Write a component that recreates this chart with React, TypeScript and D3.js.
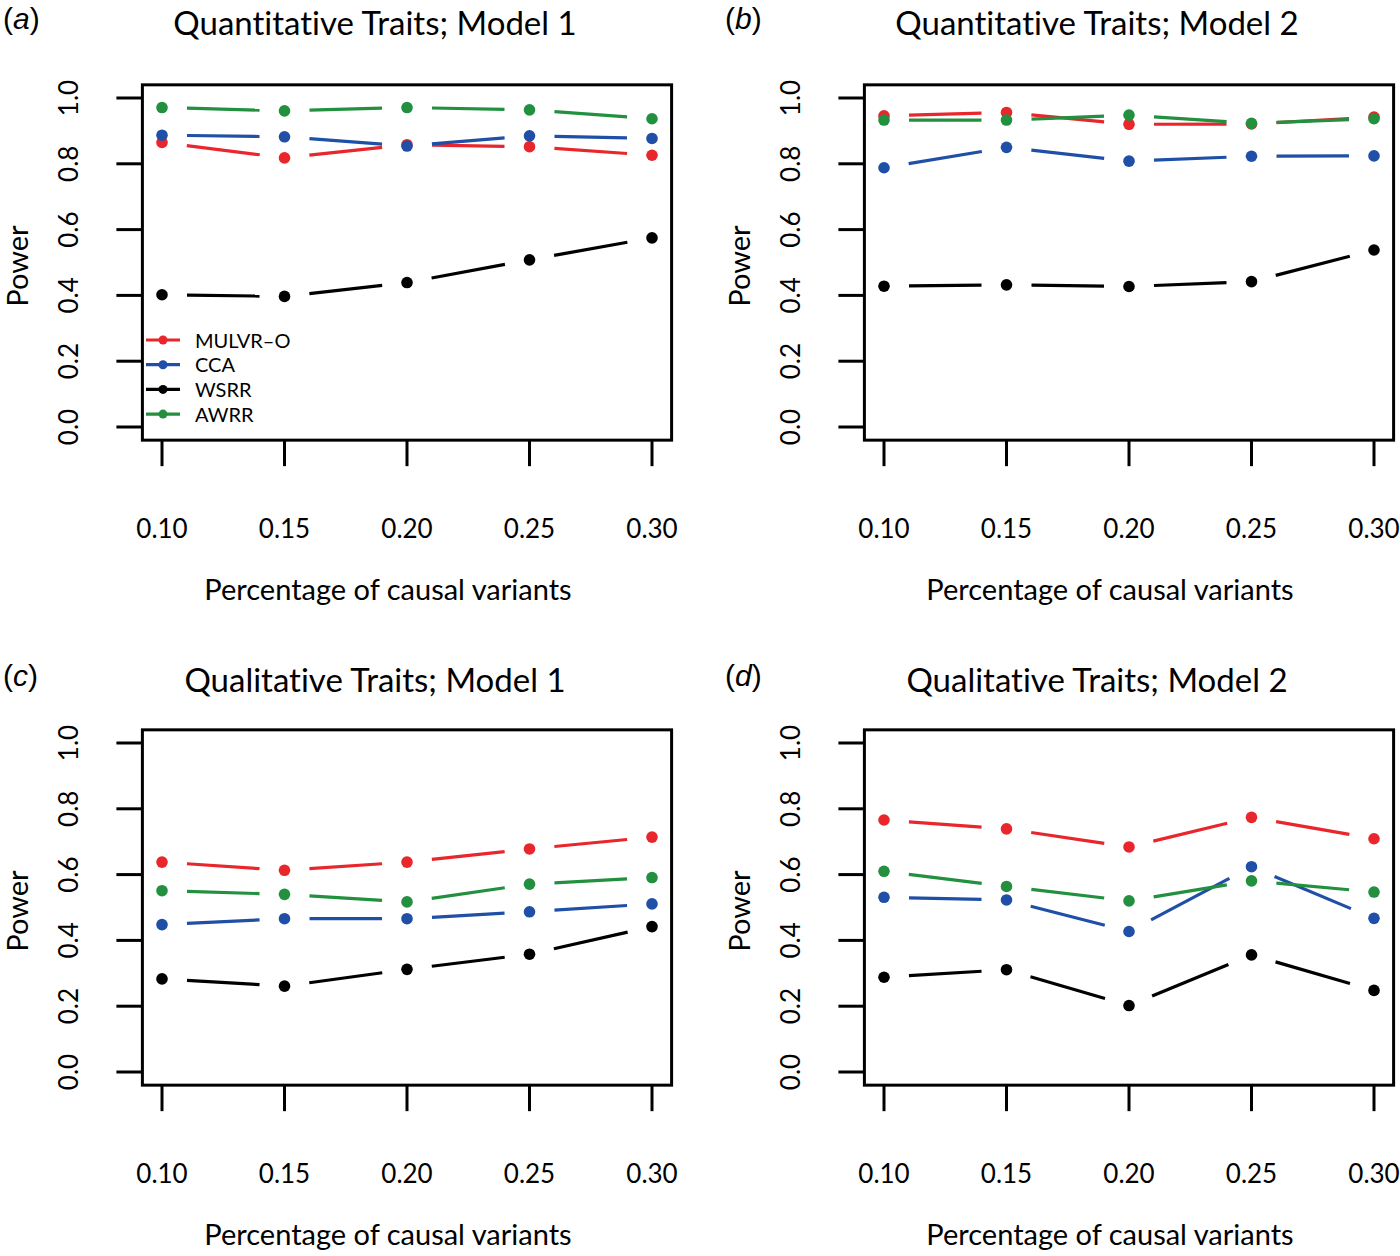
import * as d3 from 'd3'

// x positions (proportion of causal variants)
const xValues = [0.1, 0.15, 0.2, 0.25, 0.3]
const xTickLabels = ['0.10', '0.15', '0.20', '0.25', '0.30']
const yTicks = [0, 0.2, 0.4, 0.6, 0.8, 1.0]

const methods = ['MULVR–O', 'CCA', 'WSRR', 'AWRR']
const methodColors = ['#e8262b', '#1f4fa6', '#000000', '#22903f']

// power values, rows in the order of methods
const quantModel1 = [
  [0.865, 0.818, 0.858, 0.852, 0.826],
  [0.887, 0.882, 0.854, 0.885, 0.877],
  [0.402, 0.397, 0.439, 0.508, 0.575],
  [0.971, 0.961, 0.971, 0.964, 0.937],
]
const quantModel2 = [
  [0.946, 0.956, 0.92, 0.921, 0.942],
  [0.788, 0.85, 0.808, 0.823, 0.824],
  [0.428, 0.432, 0.427, 0.442, 0.538],
  [0.933, 0.933, 0.948, 0.923, 0.937],
]
const qualModel1 = [
  [0.638, 0.613, 0.638, 0.678, 0.714],
  [0.448, 0.466, 0.466, 0.487, 0.511],
  [0.283, 0.261, 0.312, 0.358, 0.442],
  [0.551, 0.54, 0.517, 0.571, 0.591],
]
const qualModel2 = [
  [0.766, 0.739, 0.684, 0.774, 0.709],
  [0.531, 0.523, 0.427, 0.624, 0.467],
  [0.288, 0.311, 0.202, 0.356, 0.248],
  [0.61, 0.564, 0.52, 0.581, 0.547],
]

const panelTitles = [
  'Quantitative Traits; Model 1',
  'Quantitative Traits; Model 2',
  'Qualitative Traits; Model 1',
  'Qualitative Traits; Model 2',
]
const panelLetters = ['a', 'b', 'c', 'd']
const panelData = [quantModel1, quantModel2, qualModel1, qualModel2]

const FONT = 'Lato, "Open Sans", sans-serif'
const ARIAL = '"Liberation Sans", Arial, sans-serif'
const GAP = 25
const noLig = { fontVariantLigatures: 'none' as const }

function Panel({ index }: { index: number }) {
  const ox = index % 2 === 0 ? 0 : 722
  const oy = index < 2 ? 0 : 645
  const titleY = index < 2 ? 35 : 692
  const data = panelData[index]

  const x = d3.scaleLinear().domain([0.1, 0.3]).range([162 + ox, 652 + ox])
  const y = d3.scaleLinear().domain([0, 1]).range([427 + oy, 98 + oy])

  const boxL = x(0.092)
  const boxR = x(0.308)
  const boxT = y(1.04)
  const boxB = y(-0.04)

  // R type="b": segments shortened at both ends
  const segments = (vals: number[]) =>
    vals.slice(1).map((v, i) => {
      const x0 = x(xValues[i]), y0 = y(vals[i])
      const x1 = x(xValues[i + 1]), y1 = y(v)
      const len = Math.hypot(x1 - x0, y1 - y0)
      const ux = (x1 - x0) / len, uy = (y1 - y0) / len
      return { x0: x0 + ux * GAP, y0: y0 + uy * GAP, x1: x1 - ux * GAP, y1: y1 - uy * GAP }
    })

  return (
    <g style={noLig}>
      <text x={3 + ox} y={titleY - 6} fontSize={30} fontFamily={ARIAL}>
        (<tspan fontStyle="italic">{panelLetters[index]}</tspan>)
      </text>
      <text x={375 + ox} y={titleY} fontSize={33} fontFamily={FONT} textAnchor="middle">
        {panelTitles[index]}
      </text>

      {data.map((vals, si) => (
        <g key={si}>
          {segments(vals).map((s, i) => (
            <line key={i} x1={s.x0} y1={s.y0} x2={s.x1} y2={s.y1}
              stroke={methodColors[si]} strokeWidth={3.2} />
          ))}
          {vals.map((v, i) => (
            <circle key={i} cx={x(xValues[i])} cy={y(v)} r={5.8} fill={methodColors[si]} />
          ))}
        </g>
      ))}

      <rect x={boxL} y={boxT} width={boxR - boxL} height={boxB - boxT}
        fill="none" stroke="#000" strokeWidth={3} />

      {yTicks.map(t => (
        <g key={t}>
          <line x1={boxL - 26} x2={boxL} y1={y(t)} y2={y(t)} stroke="#000" strokeWidth={3} />
          <text transform={`translate(${78 + ox},${y(t)}) rotate(-90)`} textAnchor="middle"
            fontSize={26} fontFamily={FONT}>{t.toFixed(1)}</text>
        </g>
      ))}
      {xValues.map((t, i) => (
        <g key={t}>
          <line x1={x(t)} x2={x(t)} y1={boxB} y2={boxB + 26} stroke="#000" strokeWidth={3} />
          <text x={x(t)} y={538 + oy} textAnchor="middle" fontSize={26} fontFamily={FONT}>
            {xTickLabels[i]}
          </text>
        </g>
      ))}

      <text transform={`translate(${28 + ox},${266 + oy}) rotate(-90)`} textAnchor="middle"
        fontSize={29} fontFamily={FONT}>Power</text>
      <text x={388 + ox} y={600 + oy} textAnchor="middle" fontSize={29} fontFamily={FONT}>
        Percentage of causal variants
      </text>

      {index === 0 && methods.map((m, i) => (
        <g key={m}>
          <line x1={146} x2={180} y1={340 + i * 24.7} y2={340 + i * 24.7}
            stroke={methodColors[i]} strokeWidth={3.2} />
          <circle cx={163} cy={340 + i * 24.7} r={4.5} fill={methodColors[i]} />
          <text x={195} y={340 + i * 24.7 + 7.5} fontSize={20} fontFamily={FONT}>{m}</text>
        </g>
      ))}
    </g>
  )
}

export default function App() {
  return (
    <>
      <style>{'body{margin:0;background:#fff}'}</style>
      <svg width={1400} height={1256} style={{ display: 'block' }}>
        <rect width={1400} height={1256} fill="#fff" />
        {[0, 1, 2, 3].map(i => <Panel key={i} index={i} />)}
      </svg>
    </>
  )
}
